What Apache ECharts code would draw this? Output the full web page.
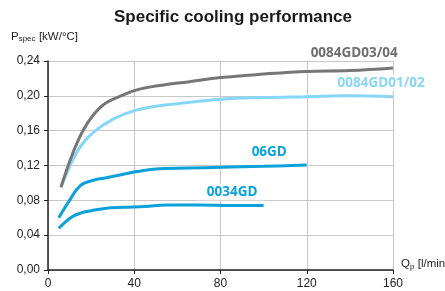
<!DOCTYPE html>
<html>
<head>
<meta charset="utf-8">
<script src="https://cdn.jsdelivr.net/npm/echarts@6/dist/echarts.min.js"></script>
<style>
  html, body { margin: 0; padding: 0; background: #fff; }
  #main { width: 445px; height: 291px; }
</style>
</head>
<body>
<div id="main"></div>
<script>
// 数据：流量 Qp [l/min] 与 比冷却功率 Pspec [kW/°C]
const seriesNames = ['0084GD01/02', '0084GD03/04', '06GD', '0034GD']

const qLight = [6, 9, 12, 16, 22, 30, 40, 50, 60, 80, 100, 120, 140, 160]
const pLight = [0.095, 0.113, 0.129, 0.145, 0.160, 0.173, 0.183, 0.188, 0.191, 0.196, 0.198, 0.199, 0.200, 0.199]

const qGray = [6, 11, 16, 21, 27, 35, 40, 47, 55, 65, 80, 100, 120, 140, 160]
const pGray = [0.095, 0.131, 0.159, 0.178, 0.192, 0.201, 0.206, 0.210, 0.213, 0.216, 0.221, 0.225, 0.228, 0.229, 0.232]

const q06 = [5, 10, 15, 21, 27, 35, 41, 50, 65, 80, 100, 120]
const p06 = [0.060, 0.080, 0.097, 0.103, 0.106, 0.110, 0.113, 0.116, 0.117, 0.118, 0.119, 0.1205]

const q0034 = [5, 11, 16, 20, 27, 35, 45, 55, 70, 85, 100]
const p0034 = [0.048, 0.061, 0.066, 0.068, 0.071, 0.072, 0.073, 0.0745, 0.0745, 0.074, 0.074]

// 标签锚点（数据坐标）和像素偏移
const labelAt = [[154.5, 0.2146], [142, 0.24], [102.6, 0.1349], [85.4, 0.0893]]
const labelShift = [[0, 0], [0, -8], [0, 0], [0, 0]]

const colors = ['#86d6f6', '#767676', '#0ba2dc', '#0ba2dc']
const xTicks = [0, 40, 80, 120, 160]

const pairs = (xs, ys) => xs.map((x, i) => [x, ys[i]])
const allData = [pairs(qLight, pLight), pairs(qGray, pGray), pairs(q06, p06), pairs(q0034, p0034)]

var myChart = echarts.init(document.getElementById('main'))

var option = {
  animation: false,
  title: {
    text: 'Specific cooling performance',
    left: 228,
    textAlign: 'center',
    top: 4,
    textStyle: { fontFamily: 'Liberation Sans', fontSize: 17, fontWeight: 'bold', color: '#1a1a1a' }
  },
  grid: { left: 48, right: 52, top: 61, bottom: 21, outerBoundsMode: 'none', containLabel: false },
  xAxis: {
    type: 'value',
    min: 0, max: 160, interval: 40,
    name: '{q|Q}{s|p} {q|[l/min]}',
    nameLocation: 'end',
    nameGap: 8,
    nameTextStyle: {
      padding: [0, 0, 12, 0],
      rich: {
        q: { fontFamily: 'Liberation Sans', fontSize: 11.5, color: '#222' },
        s: { fontFamily: 'Liberation Sans', fontSize: 8, color: '#222', verticalAlign: 'bottom', padding: [5, 0, 0, 0] }
      }
    },
    axisLine: { lineStyle: { color: '#222', width: 1.5 } },
    axisTick: { show: true, length: 4, lineStyle: { color: '#222' } },
    axisLabel: {
      margin: 8,
      fontFamily: 'Liberation Sans', fontSize: 12, color: '#222',
      formatter: v => xTicks.includes(v) ? String(v) : ''
    },
    splitLine: { show: true, lineStyle: { color: '#c8c8c8', width: 1 } }
  },
  yAxis: {
    type: 'value',
    min: 0, max: 0.24, interval: 0.04,
    name: '{q|P}{s|spec} {q|[kW/°C]}',
    nameLocation: 'end',
    nameGap: 18,
    nameTextStyle: {
      align: 'left',
      padding: [0, 0, 0, -37],
      rich: {
        q: { fontFamily: 'Liberation Sans', fontSize: 11.5, color: '#222' },
        s: { fontFamily: 'Liberation Sans', fontSize: 8, color: '#222', verticalAlign: 'bottom', padding: [5, 0, 0, 0] }
      }
    },
    axisLine: { show: true, lineStyle: { color: '#222', width: 1.5 } },
    axisTick: { show: true, length: 4, lineStyle: { color: '#222' } },
    axisLabel: {
      margin: 8,
      fontFamily: 'Liberation Sans', fontSize: 12, color: '#222',
      formatter: v => v.toFixed(2).replace('.', ',')
    },
    splitLine: { show: true, lineStyle: { color: '#c8c8c8', width: 1 } }
  },
  series: seriesNames.map((name, i) => ({
    name: name,
    type: 'line',
    data: allData[i],
    smooth: 0.4,
    symbol: 'none',
    lineStyle: { color: colors[i], width: 3 },
    z: i === 1 ? 3 : 2,
    markPoint: {
      symbol: 'circle',
      symbolSize: 0,
      data: [{ coord: labelAt[i] }],
      label: {
        show: true,
        position: 'inside',
        offset: labelShift[i],
        formatter: name,
        fontFamily: 'Open Sans',
        fontWeight: 'bold',
        fontSize: 13.5,
        color: i === 1 ? '#6e6e6e' : colors[i],
        backgroundColor: '#fff',
        padding: [1, 10]
      }
    }
  }))
}

option && myChart.setOption(option)
</script>
</body>
</html>
